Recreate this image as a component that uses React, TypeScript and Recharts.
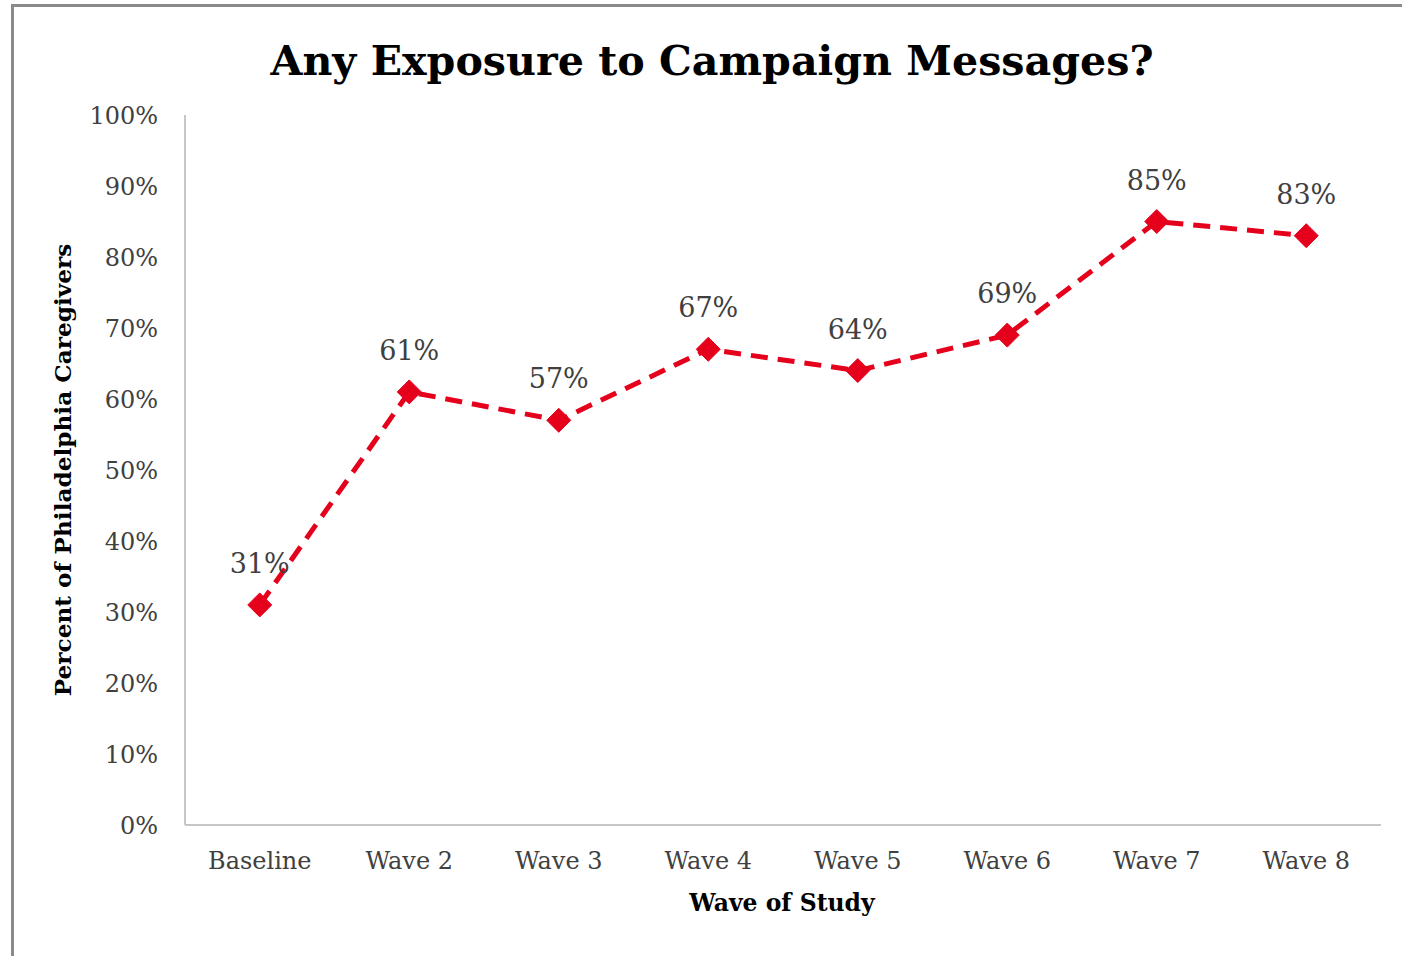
import React from 'react';
import { LineChart, Line, XAxis, YAxis, LabelList } from 'recharts';

const categories = ['Baseline', 'Wave 2', 'Wave 3', 'Wave 4', 'Wave 5', 'Wave 6', 'Wave 7', 'Wave 8'];
const exposure = [31, 61, 57, 67, 64, 69, 85, 83];
const yTicks = [0, 10, 20, 30, 40, 50, 60, 70, 80, 90, 100];

const data = categories.map((c, i) => ({ wave: c, value: exposure[i] }));

const SERIF = '"DejaVu Serif", "Liberation Serif", serif';
const RED = '#e5001c';

const Diamond = (props: any) => {
  const { cx, cy } = props;
  if (cx == null || cy == null) return null;
  const r = 12;
  return (
    <polygon
      points={`${cx},${cy - r} ${cx + r},${cy} ${cx},${cy + r} ${cx - r},${cy}`}
      fill={RED}
      stroke={RED}
    />
  );
};

export default function App() {
  return (
    <div style={{ position: 'absolute', left: 0, top: 0, width: 1402, height: 956, background: '#fff', overflow: 'hidden' }}>
      <div style={{ position: 'absolute', left: 11, top: 4, right: -10, bottom: -10, borderTop: '3px solid #8a8a8a', borderLeft: '3px solid #8a8a8a' }} />
      <div
        style={{
          position: 'absolute',
          left: 0,
          width: 1424,
          top: 35,
          textAlign: 'center',
          fontFamily: SERIF,
          fontWeight: 'bold',
          fontSize: 41.2,
          color: '#000',
          lineHeight: '52px',
        }}
      >
        Any Exposure to Campaign Messages?
      </div>
      <div style={{ position: 'absolute', left: 0, top: 0 }}>
        <LineChart width={1402} height={956} data={data} margin={{ top: 115, right: 21, bottom: 71, left: 60 }}>
          <XAxis
            dataKey="wave"
            padding={{ left: 74.75, right: 74.75 }}
            axisLine={{ stroke: '#c6c6c6', strokeWidth: 2 }}
            tickLine={false}
            tickSize={0}
            tickMargin={27}
            height={60}
            tick={{ fontFamily: SERIF, fontSize: 24, fill: '#404040' }}
            label={{
              content: () => (
                <text x={782} y={911} textAnchor="middle" fontFamily={SERIF} fontWeight="bold" fontSize={23.5} fill="#000">
                  Wave of Study
                </text>
              ),
            }}
          />
          <YAxis
            domain={[0, 100]}
            ticks={yTicks}
            tickFormatter={(v: number) => `${v}%`}
            axisLine={{ stroke: '#c6c6c6', strokeWidth: 2 }}
            tickLine={false}
            tickSize={0}
            tickMargin={27}
            width={125}
            interval={0}
            tick={{ fontFamily: SERIF, fontSize: 24, fill: '#404040' }}
            label={{
              content: () => (
                <text
                  x={71}
                  y={470}
                  transform="rotate(-90 71 470)"
                  textAnchor="middle"
                  fontFamily={SERIF}
                  fontWeight="bold"
                  fontSize={23.2}
                  fill="#000"
                >
                  Percent of Philadelphia Caregivers
                </text>
              ),
            }}
          />
          <Line
            type="linear"
            dataKey="value"
            stroke={RED}
            strokeWidth={5}
            strokeDasharray="17 10"
            dot={<Diamond />}
            activeDot={false}
            isAnimationActive={false}
          >
            <LabelList
              dataKey="value"
              position="top"
              offset={32}
              formatter={(v: number) => `${v}%`}
              style={{ fontFamily: SERIF, fontSize: 27, fill: '#404040' }}
            />
          </Line>
        </LineChart>
      </div>
    </div>
  );
}
